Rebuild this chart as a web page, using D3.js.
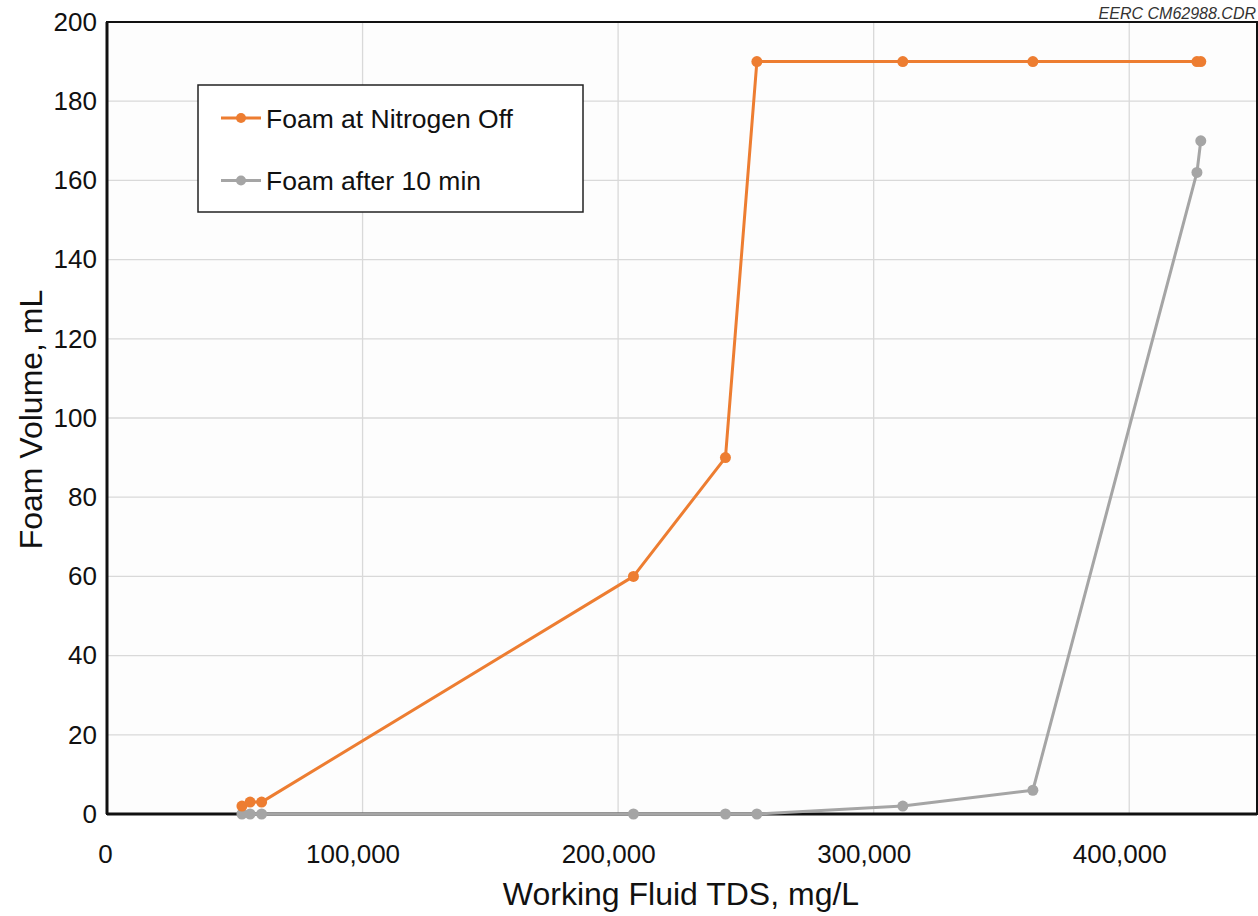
<!DOCTYPE html>
<html><head><meta charset="utf-8">
<script src="https://cdn.jsdelivr.net/npm/d3@7"></script>
<style>body{margin:0;background:#fff;}svg{display:block;font-family:"Liberation Sans",Arial,sans-serif;}</style>
</head><body>
<svg id="c" width="1258" height="916"></svg>
<script>
const tds = [52800, 56000, 60500, 206000, 242000, 254300, 311400, 362300, 426500, 428000];
const foamNitrogenOff = [2, 3, 3, 60, 90, 190, 190, 190, 190, 190];
const foamAfter10 = [0, 0, 0, 0, 0, 0, 2, 6, 162, 170];
const seriesNames = ["Foam at Nitrogen Off", "Foam after 10 min"];
const xTicks = [0, 100000, 200000, 300000, 400000];
const yTicks = [0, 20, 40, 60, 80, 100, 120, 140, 160, 180, 200];
const colors = ["#ED7D31", "#A5A5A5"];

const svg = d3.select("#c");
const L = 107, R = 1257, T = 22, B = 814;
const x = d3.scaleLinear().domain([0, 450000]).range([L, R]);
const y = d3.scaleLinear().domain([0, 200]).range([B, T]);

svg.append("rect").attr("x", L).attr("y", T).attr("width", R - L).attr("height", B - T).attr("fill", "#fdfdfd");

// grid
svg.append("g").selectAll("line").data(xTicks.filter(d => d > 0)).join("line")
  .attr("x1", d => x(d)).attr("x2", d => x(d)).attr("y1", T).attr("y2", B)
  .attr("stroke", "#d9d9d9").attr("stroke-width", 1.3);
svg.append("g").selectAll("line").data(yTicks.filter(d => d > 0 && d < 200)).join("line")
  .attr("x1", L).attr("x2", R).attr("y1", d => y(d)).attr("y2", d => y(d))
  .attr("stroke", "#d9d9d9").attr("stroke-width", 1.3);

// axes
const xAxis = svg.append("g").attr("transform", `translate(0,${B})`)
  .call(d3.axisBottom(x).tickValues(xTicks).tickSize(0).tickPadding(31).tickFormat(d3.format(",")));
xAxis.select(".domain").remove();
xAxis.selectAll("text").attr("font-size", 26).attr("fill", "#111")
  .attr("dx", d => d === 0 ? -2 : -10)
  .style("font-family", "Liberation Sans, Arial, sans-serif");
const yAxis = svg.append("g").attr("transform", `translate(${L},0)`)
  .call(d3.axisLeft(y).tickValues(yTicks).tickSize(0).tickPadding(10));
yAxis.select(".domain").remove();
yAxis.selectAll("text").attr("font-size", 26).attr("fill", "#111").style("font-family", "Liberation Sans, Arial, sans-serif");

// frame
svg.append("rect").attr("x", L).attr("y", T).attr("width", R - L).attr("height", B - T)
  .attr("fill", "none").attr("stroke", "#111").attr("stroke-width", 2);
svg.append("line").attr("x1", L).attr("x2", R).attr("y1", B).attr("y2", B).attr("stroke", "#111").attr("stroke-width", 3);
svg.append("line").attr("x1", L).attr("x2", L).attr("y1", T).attr("y2", B).attr("stroke", "#111").attr("stroke-width", 3);

// series
const series = [foamNitrogenOff, foamAfter10];
const line = d3.line().x(d => x(d[0])).y(d => y(d[1]));
[1, 0].forEach(i => {
  const pts = tds.map((t, j) => [t, series[i][j]]);
  svg.append("path").datum(pts).attr("d", line).attr("fill", "none")
    .attr("stroke", colors[i]).attr("stroke-width", 3).attr("stroke-linejoin", "round");
  svg.append("g").selectAll("circle").data(pts).join("circle")
    .attr("cx", d => x(d[0])).attr("cy", d => y(d[1])).attr("r", 5.5).attr("fill", colors[i]);
});

// legend
const lg = svg.append("g");
lg.append("rect").attr("x", 198).attr("y", 85).attr("width", 385).attr("height", 127)
  .attr("fill", "#fff").attr("stroke", "#222").attr("stroke-width", 1.5);
seriesNames.forEach((n, i) => {
  const yy = 118 + i * 62.5;
  lg.append("line").attr("x1", 221).attr("x2", 261).attr("y1", yy).attr("y2", yy).attr("stroke", colors[i]).attr("stroke-width", 3);
  lg.append("circle").attr("cx", 241).attr("cy", yy).attr("r", 5).attr("fill", colors[i]);
  lg.append("text").attr("x", 266).attr("y", yy + 9.5).attr("font-size", 26.5).attr("fill", "#111").text(n);
});

// titles
svg.append("text").attr("x", 681).attr("y", 905).attr("text-anchor", "middle")
  .attr("font-size", 32).attr("fill", "#111").text("Working Fluid TDS, mg/L");
svg.append("text").attr("transform", `translate(42,419.5) rotate(-90)`).attr("text-anchor", "middle")
  .attr("font-size", 32).attr("fill", "#111").text("Foam Volume, mL");
svg.append("text").attr("x", 1256).attr("y", 19).attr("text-anchor", "end")
  .attr("font-size", 16).attr("font-style", "italic").attr("fill", "#333").text("EERC CM62988.CDR");
</script>
</body></html>
